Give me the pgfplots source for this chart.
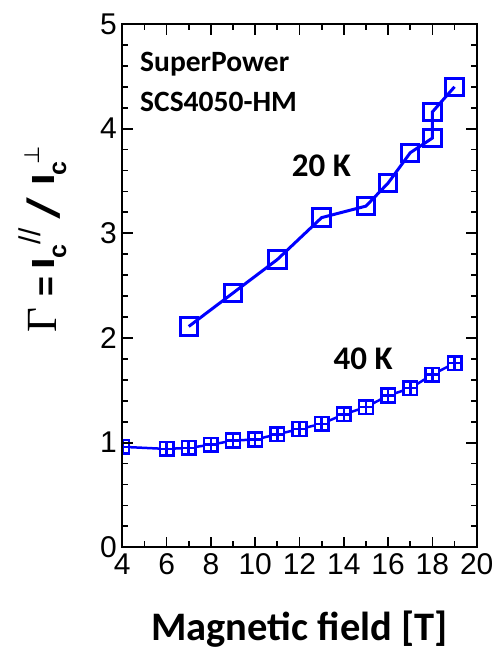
\documentclass[border=0pt]{standalone}
\usepackage{fontspec}
\usepackage{graphicx}
\setmainfont{Liberation Sans}
\newfontfamily\calfont{Carlito}
\newfontfamily\timesfont{Liberation Serif}
\newfontfamily\dejavu{DejaVu Sans}
\newfontfamily\slashfont[FakeSlant=0.3]{Liberation Sans Bold}
\usepackage{pgfplots}
\pgfplotsset{compat=1.18}
\definecolor{pblue}{RGB}{0,0,255}
\newcommand\at[2]{\rlap{\kern#1pt #2}}
\newcommand\ylab{\hbox to 183pt{%
  \at{0.5}{\raisebox{-2pt}{\timesfont\fontsize{43}{43}\selectfont Γ}}%
  \at{36.5}{\raisebox{-3pt}{\bfseries\fontsize{34}{34}\selectfont =}}%
  \at{63.5}{\scalebox{1.3}[1]{\bfseries\fontsize{32}{32}\selectfont I}}%
  \at{74}{\raisebox{-12pt}{\bfseries\fontsize{25}{25}\selectfont c}}%
  \at{88}{\raisebox{13.5pt}{\fontsize{30}{30}\selectfont //}}%
  \at{113}{\raisebox{-5pt}{\slashfont\fontsize{45}{45}\selectfont /}}%
  \at{147.5}{\scalebox{1.3}[1]{\bfseries\fontsize{32}{32}\selectfont I}}%
  \at{157}{\raisebox{-12pt}{\bfseries\fontsize{25}{25}\selectfont c}}%
  \at{168.5}{\raisebox{15pt}{\dejavu\fontsize{21}{21}\selectfont ⊥}}%
  \hfil}}
\pgfdeclareplotmark{sqplus}{%
  \pgfpathrectangle{\pgfpoint{-\pgfplotmarksize}{-\pgfplotmarksize}}{\pgfpoint{2\pgfplotmarksize}{2\pgfplotmarksize}}%
  \pgfusepathqfillstroke
  \pgfpathmoveto{\pgfpoint{-\pgfplotmarksize}{0pt}}\pgfpathlineto{\pgfpoint{\pgfplotmarksize}{0pt}}%
  \pgfpathmoveto{\pgfpoint{0pt}{-\pgfplotmarksize}}\pgfpathlineto{\pgfpoint{0pt}{\pgfplotmarksize}}%
  \pgfusepathqstroke}
\begin{document}
\begin{tikzpicture}
\useasboundingbox (-122.3pt,-102.7pt) rectangle (375.7pt,547.3pt);
\begin{axis}[
  scale only axis,
  width=354.4pt, height=523.3pt,
  at={(0,0)}, anchor=south west,
  xmin=4, xmax=20, ymin=0, ymax=5,
  xtick={4,6,...,20}, ytick={0,1,...,5},
  minor x tick num=1, minor y tick num=4,
  tick align=inside,
  major tick length=10.5pt, minor tick length=6pt,
  axis line style={line width=2pt, black},
  every tick/.style={line width=1.8pt, black},
  tick label style={font=\fontsize{30}{30}\selectfont},
  /pgf/number format/assume math mode=true,
  xticklabel style={yshift=-3pt},
  yticklabel style={xshift=-2pt},
  clip marker paths=true,
  axis on top,
  xlabel={\calfont\bfseries Magnetic field [T]},
  xlabel style={at={(rel axis cs:0.5,0)}, anchor=base, yshift=-93pt, font=\fontsize{40.5}{40.5}\selectfont},
  ylabel={\ylab},
  ylabel style={at={(rel axis cs:-0.1927,0.5844)}, anchor=base, inner sep=0pt},
]
\addplot[pblue, line width=3pt, mark=square, mark size=8.7pt, mark options={fill=white, line width=3pt, solid}]
coordinates {(7,2.11) (9,2.43) (11,2.75) (13,3.15) (15,3.26) (16,3.48) (17,3.77) (18,3.91) (18,4.16) (19,4.40)};
\addplot[pblue, line width=2.5pt, mark=sqplus, mark size=6.8pt, mark options={fill=white, line width=2.5pt, solid}]
coordinates {(4,0.96) (6,0.94) (7,0.95) (8,0.98) (9,1.02) (10,1.03) (11,1.08) (12,1.13) (13,1.18) (14,1.27) (15,1.34) (16,1.45) (17,1.52) (18,1.65) (19,1.76)};
\node[anchor=base west, inner sep=0, font=\calfont\bfseries\fontsize{29.5}{29.5}\selectfont] at (axis cs:4.80,4.544) {SuperPower};
\node[anchor=base west, inner sep=0, font=\calfont\bfseries\fontsize{29.5}{29.5}\selectfont] at (axis cs:4.80,4.162) {SCS4050-HM};
\node[anchor=base west, inner sep=0, font=\calfont\bfseries\fontsize{33}{33}\selectfont] at (axis cs:11.65,3.541) {20 K};
\node[anchor=base west, inner sep=0, font=\calfont\bfseries\fontsize{33}{33}\selectfont] at (axis cs:13.53,1.701) {40 K};
\end{axis}
\end{tikzpicture}
\end{document}
